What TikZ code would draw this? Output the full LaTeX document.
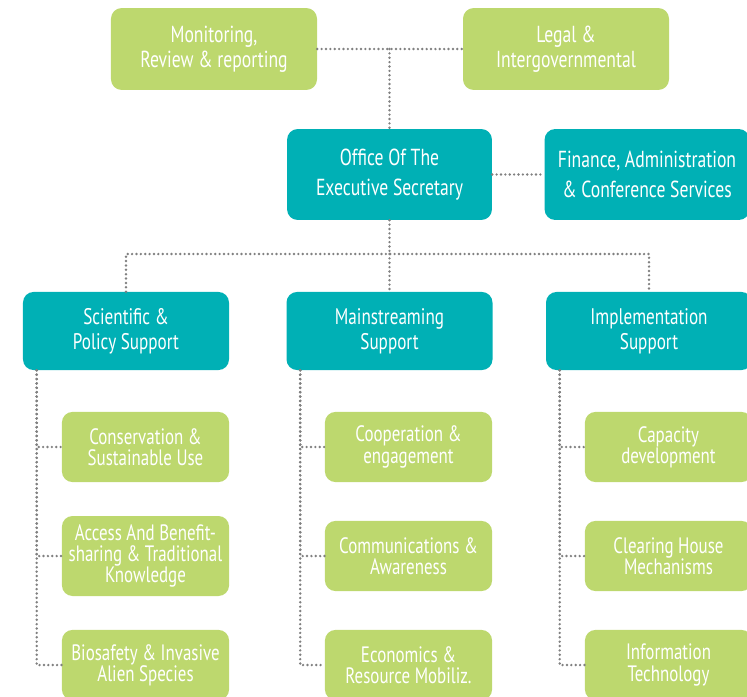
\documentclass[tikz,border=0pt]{standalone}
\usepackage{fontspec}
\setmainfont[FakeStretch=0.76]{PT Sans}
\usetikzlibrary{positioning, calc}

\begin{document}
\begin{tikzpicture}[
    x=0.0265cm, y=-0.0265cm,
    % --- Styles ---
    box/.style={rounded corners=8pt, align=center, text=white, inner sep=0pt},
    head_box/.style={box, fill=tGreen, minimum width=5.46cm, minimum height=2.17cm,
        font=\fontsize{17.5}{18.8}\selectfont},
    office_box/.style={box, fill=tTeal, minimum width=5.43cm, minimum height=2.41cm,
        font=\fontsize{17.5}{22.5}\selectfont},
    unit_box/.style={box, fill=tTeal, minimum width=5.46cm, minimum height=2.07cm,
        font=\fontsize{17}{18.8}\selectfont},
    leaf_box/.style={box, fill=tGreen, minimum width=4.43cm, minimum height=1.86cm,
        font=\fontsize{16.8}{16}\selectfont},
    link/.style={draw=black!50, line width=2pt, line cap=round, dash pattern=on 0pt off 3.3pt}
]

    % --- Colors ---
    \definecolor{tGreen}{RGB}{189,216,110}  % light green boxes
    \definecolor{tTeal}{RGB}{0,176,181}     % teal boxes

    \useasboundingbox (0,0) rectangle (747,696);

    % ==========================
    % 1. TOP ROW
    % ==========================
    \node[head_box] (mon) at (214, 49) {Monitoring,\\Review \& reporting};
    \node[head_box] (legal) at (566, 49) {Legal \&\\Intergovernmental};
    \coordinate (top_j) at (389.5, 49);

    % ==========================
    % 2. OFFICE + FINANCE
    % ==========================
    \node[office_box] (office) at (389.5, 174.5) {Office Of The\\Executive Secretary};
    \node[office_box] (fin) at (647, 174.5) {Finance, Administration\\\& Conference Services};
    \coordinate (mid_j) at (389.5, 254);

    % ==========================
    % 3. SUPPORT UNITS
    % ==========================
    \node[unit_box] (sci) at (126, 331) {Scientific \&\\Policy Support};
    \node[unit_box] (main) at (389.5, 331) {Mainstreaming\\Support};
    \node[unit_box] (impl) at (649, 331) {Implementation\\Support};

    % ==========================
    % 4. LEAF BOXES
    % ==========================
    % Column 1
    \node[leaf_box] (cons) at (145.5, 447) {Conservation \&\\Sustainable Use};
    \node[leaf_box, minimum height=2.12cm] (abs) at (145.5, 556) {Access And Benefit-\\sharing \& Traditional\\Knowledge};
    \node[leaf_box] (bio) at (145.5, 665) {Biosafety \& Invasive\\Alien Species};

    % Column 2
    \node[leaf_box] (coop) at (408.5, 447) {Cooperation \&\\engagement};
    \node[leaf_box] (comm) at (408.5, 556) {Communications \&\\Awareness};
    \node[leaf_box] (econ) at (408.5, 665) {Economics \&\\Resource Mobiliz.};

    % Column 3
    \node[leaf_box] (cap) at (668.5, 447) {Capacity\\development};
    \node[leaf_box] (chm) at (668.5, 556) {Clearing House\\Mechanisms};
    \node[leaf_box] (info) at (668.5, 665) {Information\\Technology};

    % ==========================
    % 5. CONNECTORS
    % ==========================
    \draw[link] (mon.east) -- (legal.west);
    \draw[link] (top_j) -- (office.north);
    \draw[link] (office.east) -- (fin.west);

    \draw[link] (office.south) -- (mid_j);
    \draw[link] (sci.north) |- (mid_j) -| (impl.north);
    \draw[link] (mid_j) -- (main.north);

    \foreach \unit/\leaf in {sci/cons, sci/abs, sci/bio,
                             main/coop, main/comm, main/econ,
                             impl/cap, impl/chm, impl/info} {
        \draw[link] ([xshift=0.37cm]\unit.south west) |- (\leaf.west);
    }

\end{tikzpicture}
\end{document}
